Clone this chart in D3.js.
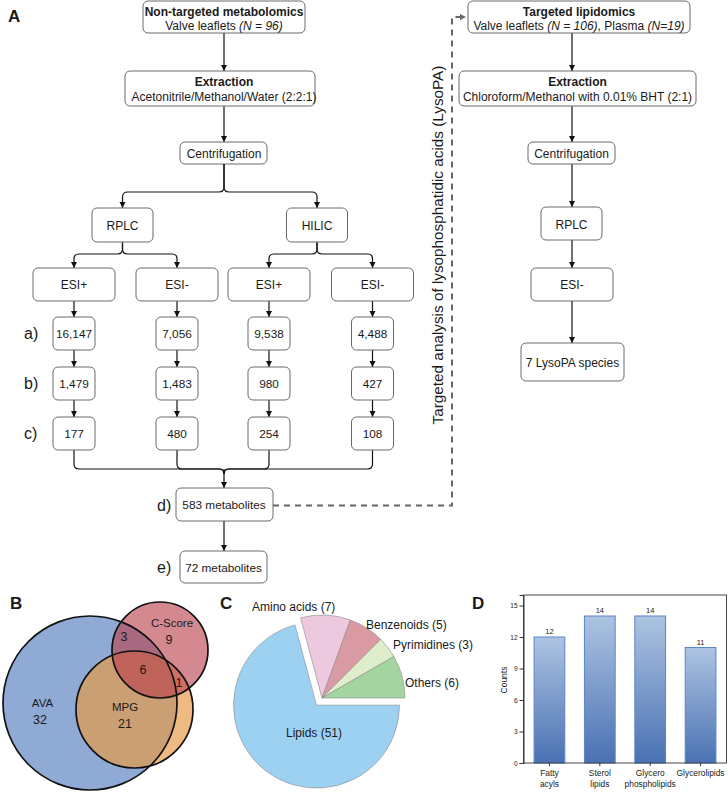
<!DOCTYPE html>
<html><head><meta charset="utf-8">
<script src="https://cdn.jsdelivr.net/npm/d3@7"></script>
<style>
body{margin:0;background:#fff}
svg{display:block}
text{font-family:"Liberation Sans",Arial,Helvetica,sans-serif;fill:#1a1a1a}
</style>
</head><body>
<script>
// ================= DATA =================
const nonTargetedTitle = "Non-targeted metabolomics";
const nonTargetedSample = ["Valve leaflets ", "(N = 96)"];
const extractionTitle = "Extraction";
const extractionA = "Acetonitrile/Methanol/Water (2:2:1)";
const centrifugation = "Centrifugation";
const chromatography = ["RPLC", "HILIC"];
const ionModes = ["ESI+", "ESI-", "ESI+", "ESI-"];
const stepLabels = ["a)", "b)", "c)", "d)", "e)"];
const stepA = [16147, 7056, 9538, 4488];
const stepB = [1479, 1483, 980, 427];
const stepC = [177, 480, 254, 108];
const mergedCount = 583;
const finalCount = 72;
const targetedTitle = "Targeted lipidomics";
const targetedSample = ["Valve leaflets ", "(N = 106)", ", Plasma ", "(N=19)"];
const extractionB = "Chloroform/Methanol with 0.01% BHT (2:1)";
const targetedChrom = "RPLC";
const targetedMode = "ESI-";
const lysoCount = 7;
const sideLabel = "Targeted analysis of lysophosphatidic acids (LysoPA)";

const vennSets = ["AVA", "MPG", "C-Score"];
const vennOnly = [32, 21, 9];
const vennPairAC = 3;
const vennAll = 6;
const vennPairMC = 1;

const pieCategories = ["Amino acids", "Benzenoids", "Pyrimidines", "Others", "Lipids"];
const pieValues = [7, 5, 3, 6, 51];

const barCategories = [["Fatty", "acyls"], ["Sterol", "lipids"], ["Glycero", "phospholipids"], ["Glycerolipids"]];
const barValues = [12, 14, 14, 11];
const barTicks = [0, 3, 6, 9, 12, 15];

// ================= LAYOUT =================
const W = 728, H = 792;
const svg = d3.select("body").append("svg").attr("width", W).attr("height", H);
const defs = svg.append("defs");
function marker(id, color) {
  defs.append("marker").attr("id", id).attr("viewBox", "0 0 10 10")
    .attr("refX", 10).attr("refY", 5).attr("markerWidth", 6.5).attr("markerHeight", 7)
    .attr("markerUnits", "userSpaceOnUse").attr("orient", "auto")
    .append("path").attr("d", "M0,0 L10,5 L0,10 z").attr("fill", color);
}
marker("arr", "#111");
marker("arrg", "#666");

const fmt = d3.format(",");
const flow = svg.append("g");

function box(x0, y0, x1, y1) {
  flow.append("rect").attr("x", x0).attr("y", y0).attr("width", x1 - x0).attr("height", y1 - y0)
    .attr("rx", 5).attr("fill", "#fff").attr("stroke", "#6a6a6a").attr("stroke-width", 1);
}
function txt(x, y, parts, size, anchor) {
  const t = flow.append("text").attr("x", x).attr("y", y).attr("font-size", size)
    .attr("text-anchor", anchor || "middle");
  parts.forEach(p => {
    const s = t.append("tspan").text(p.t);
    if (p.b) s.attr("font-weight", "bold");
    if (p.i) s.attr("font-style", "italic");
  });
  return t;
}
function arrow(x, y0, y1) {
  flow.append("line").attr("x1", x).attr("x2", x).attr("y1", y0).attr("y2", y1)
    .attr("stroke", "#111").attr("stroke-width", 1.2).attr("marker-end", "url(#arr)");
}
function split(px, y0, yb, cx, y1) {
  const r = 5, s = cx < px ? -1 : 1;
  flow.append("path")
    .attr("d", `M${px},${y0} L${px},${yb - r} Q${px},${yb} ${px + s * r},${yb} L${cx - s * r},${yb} Q${cx},${yb} ${cx},${yb + r} L${cx},${y1}`)
    .attr("fill", "none").attr("stroke", "#111").attr("stroke-width", 1.2).attr("marker-end", "url(#arr)");
}
function merge(cx, y0, yb, px) {
  const r = 5, s = px < cx ? -1 : 1;
  flow.append("path")
    .attr("d", `M${cx},${y0} L${cx},${yb - r} Q${cx},${yb} ${cx + s * r},${yb} L${px - s * r},${yb} Q${px},${yb} ${px},${yb + r}`)
    .attr("fill", "none").attr("stroke", "#111").attr("stroke-width", 1.2);
}

const mainX = 224, branchX = [122.5, 317], colX = [74, 177, 269, 372.5];
const FS = 12, NS = 11.8;

svg.append("text").attr("x", 8).attr("y", 22).attr("font-size", 17).attr("font-weight", "bold").text("A");

// Header box
arrow(mainX, 33, 71);
box(143, 1, 305, 33);
txt(mainX, 15.5, [{ t: nonTargetedTitle, b: true }], FS);
txt(mainX, 29.5, [{ t: nonTargetedSample[0] }, { t: nonTargetedSample[1], i: true }], FS);

// Extraction
arrow(mainX, 106, 142);
box(125, 71, 315, 106);
txt(mainX, 85.5, [{ t: extractionTitle, b: true }], FS);
txt(mainX, 101, [{ t: extractionA }], FS);

// Centrifugation
box(180, 142, 267, 164);
txt(mainX, 157.5, [{ t: centrifugation }], FS);
branchX.forEach(bx => split(mainX, 164, 192, bx, 208));

// RPLC / HILIC
chromatography.forEach((c, i) => {
  const bx = branchX[i];
  [0, 1].forEach(k => split(bx, 242, 254, colX[i * 2 + k], 268));
  box(bx - 30.5, 208, bx + 30.5, 242);
  txt(bx, 229.5, [{ t: c }], FS);
});

// ESI boxes and steps
const stepRows = [[317, 350], [367, 400], [417, 450]];
const stepData = [stepA, stepB, stepC];
ionModes.forEach((m, i) => {
  const cx = colX[i];
  arrow(cx, 301, 317);
  arrow(cx, 350, 367);
  arrow(cx, 400, 417);
  merge(cx, 450, 469, mainX);
  box(cx - 41, 268, cx + 41, 301);
  txt(cx, 289, [{ t: m }], FS);
  stepData.forEach((arr, r) => {
    box(cx - 21, stepRows[r][0], cx + 21, stepRows[r][1]);
    txt(cx, (stepRows[r][0] + stepRows[r][1]) / 2 + 4.3, [{ t: fmt(arr[i]) }], NS);
  });
});
stepRows.forEach((row, r) => {
  txt(24, (row[0] + row[1]) / 2 + 5.5, [{ t: stepLabels[r] }], 16, "start");
});
arrow(mainX, 469, 488);

// d and e boxes
arrow(mainX, 521, 551);
box(176, 488, 273, 521);
txt(mainX, 509, [{ t: mergedCount + " metabolites" }], NS);
txt(157, 511, [{ t: stepLabels[3] }], 16, "start");
box(180, 551, 267, 583);
txt(mainX - 0.5, 571.5, [{ t: finalCount + " metabolites" }], NS);
txt(157, 573, [{ t: stepLabels[4] }], 16, "start");

// dashed connector
flow.append("path").attr("d", "M273,505.5 L452,505.5 L452,17 L466,17")
  .attr("fill", "none").attr("stroke", "#666").attr("stroke-width", 2)
  .attr("stroke-dasharray", "6,5").attr("marker-end", "url(#arrg)");
flow.append("text").attr("transform", "translate(443,245) rotate(-90)")
  .attr("text-anchor", "middle").attr("font-size", 15.3).text(sideLabel);

// right column
const rX = 572;
arrow(rX, 33, 71);
arrow(rX, 106, 142);
arrow(rX, 164, 207);
arrow(rX, 240, 268);
arrow(rX, 301, 343);
box(468, 1, 690, 33);
txt(579, 15.5, [{ t: targetedTitle, b: true }], FS);
txt(579, 29.5, [{ t: targetedSample[0] }, { t: targetedSample[1], i: true }, { t: targetedSample[2] }, { t: targetedSample[3], i: true }], FS);
box(459, 71, 696, 106);
txt(577.5, 85.5, [{ t: extractionTitle, b: true }], FS);
txt(577.5, 101, [{ t: extractionB }], FS);
box(528, 142, 615, 164);
txt(571.5, 157.5, [{ t: centrifugation }], FS);
box(541, 207, 602, 240);
txt(571.5, 228.5, [{ t: targetedChrom }], FS);
box(531, 268, 613, 301);
txt(572, 289, [{ t: targetedMode }], FS);
box(521, 343, 624, 381);
txt(572.5, 366.5, [{ t: lysoCount + " LysoPA species" }], FS);

// ================= B: VENN =================
svg.append("text").attr("x", 10).attr("y", 609).attr("font-size", 17).attr("font-weight", "bold").text("B");
const vennLayout = [
  { cx: 90, cy: 703, r: 87, fill: "#8eaad5", op: 1 },
  { cx: 134.5, cy: 709.5, r: 58.5, fill: "#e89a45", op: 0.68 },
  { cx: 160, cy: 650, r: 48, fill: "#b9414c", op: 0.62 }
];
const vg = svg.append("g");
vg.selectAll("circle.f").data(vennLayout).join("circle").attr("class", "f")
  .attr("cx", d => d.cx).attr("cy", d => d.cy).attr("r", d => d.r)
  .attr("fill", d => d.fill).attr("fill-opacity", d => d.op);
vg.selectAll("circle.s").data(vennLayout).join("circle").attr("class", "s")
  .attr("cx", d => d.cx).attr("cy", d => d.cy).attr("r", d => d.r)
  .attr("fill", "none").attr("stroke", "#111").attr("stroke-width", 1.7);
const vennText = [
  { t: vennSets[0], x: 42.5, y: 707, s: 11.5 }, { t: vennOnly[0], x: 40, y: 724, s: 12.5 },
  { t: vennSets[1], x: 125, y: 711, s: 11.5 }, { t: vennOnly[1], x: 125, y: 728, s: 12.5 },
  { t: vennSets[2], x: 172, y: 627, s: 11.5 }, { t: vennOnly[2], x: 169, y: 644, s: 12.5 },
  { t: vennPairAC, x: 124, y: 641, s: 12.5 }, { t: vennAll, x: 143, y: 674, s: 12.5 },
  { t: vennPairMC, x: 179, y: 687, s: 12.5 }
];
vg.selectAll("text").data(vennText).join("text")
  .attr("x", d => d.x).attr("y", d => d.y).attr("font-size", d => d.s)
  .attr("text-anchor", "middle").attr("fill", "#222").text(d => d.t);

// ================= C: PIE =================
svg.append("text").attr("x", 220).attr("y", 609).attr("font-size", 17).attr("font-weight", "bold").text("C");
const pieColors = ["#ecc9df", "#d99aa3", "#deedcb", "#a4d5a0", "#9dd1f2"];
const pieLabelPos = [[252, 611, "start"], [366, 629, "start"], [393, 649, "start"], [405, 687, "start"], [314, 737, "middle"]];
const pcx = 322, pcy = 698, pr = 83;
const pie = d3.pie().sort(null).startAngle(-Math.PI / 12).endAngle(2 * Math.PI - Math.PI / 12);
const arcs = pie(pieValues);
const arc = d3.arc().innerRadius(0).outerRadius(pr);
const pg = svg.append("g").attr("transform", `translate(${pcx},${pcy})`);
pg.selectAll("path").data(arcs).join("path")
  .attr("transform", (d, i) => {
    if (pieCategories[i] !== "Lipids") return null;
    const a = (d.startAngle + d.endAngle) / 2, off = 9;
    return `translate(${off * Math.sin(a)},${-off * Math.cos(a)})`;
  })
  .attr("d", arc).attr("fill", (d, i) => pieColors[i])
  .attr("stroke", "#8a8a8a").attr("stroke-width", 0.6);
svg.append("g").selectAll("text").data(arcs).join("text")
  .attr("x", (d, i) => pieLabelPos[i][0]).attr("y", (d, i) => pieLabelPos[i][1])
  .attr("text-anchor", (d, i) => pieLabelPos[i][2])
  .attr("font-size", 12).attr("fill", "#222")
  .text((d, i) => `${pieCategories[i]} (${d.data})`);

// ================= D: BAR =================
svg.append("text").attr("x", 472).attr("y", 609).attr("font-size", 17).attr("font-weight", "bold").text("D");
const grad = defs.append("linearGradient").attr("id", "bg").attr("x1", 0).attr("y1", 0).attr("x2", 0).attr("y2", 1);
grad.append("stop").attr("offset", "0%").attr("stop-color", "#adc4e2");
grad.append("stop").attr("offset", "100%").attr("stop-color", "#4a71b3");
const bx0 = 523.5, bx1 = 726.5, by0 = 763, by1 = 595;
const xs = d3.scaleBand().domain(d3.range(barValues.length)).range([bx0 + 0.5, bx1 - 0.5]).paddingInner(0.39).paddingOuter(0.2);
const ys = d3.scaleLinear().domain([0, 16]).range([by0, by1]);
const bg = svg.append("g");
bg.selectAll("rect.bar").data(barValues).join("rect").attr("class", "bar")
  .attr("x", (d, i) => xs(i)).attr("width", xs.bandwidth())
  .attr("y", d => ys(d)).attr("height", d => ys(0) - ys(d))
  .attr("fill", "url(#bg)").attr("stroke", "#5a85c9").attr("stroke-width", 1);
bg.selectAll("text.val").data(barValues).join("text").attr("class", "val")
  .attr("x", (d, i) => xs(i) + xs.bandwidth() / 2).attr("y", d => ys(d) - 3)
  .attr("text-anchor", "middle").attr("font-size", 7.5).text(d => d);
bg.append("rect").attr("x", bx0).attr("y", by1).attr("width", bx1 - bx0).attr("height", by0 - by1)
  .attr("fill", "none").attr("stroke", "#333").attr("stroke-width", 0.9);
const yAxis = bg.append("g").attr("transform", `translate(${bx0},0)`)
  .call(d3.axisLeft(ys).tickValues(barTicks).tickSize(4).tickPadding(2));
yAxis.select(".domain").attr("stroke", "#333");
yAxis.selectAll("line").attr("stroke", "#333");
yAxis.selectAll("text").attr("font-size", 6.5).attr("fill", "#222").attr("font-family", null);
const xAxis = bg.append("g").attr("transform", `translate(0,${by0})`)
  .call(d3.axisBottom(xs).tickSize(3).tickFormat(""));
xAxis.select(".domain").remove();
xAxis.selectAll("line").attr("stroke", "#333");
bg.selectAll("text.cat").data(barCategories).join("text").attr("class", "cat")
  .attr("x", (d, i) => xs(i) + xs.bandwidth() / 2).attr("y", 776)
  .attr("text-anchor", "middle").attr("font-size", 8.4)
  .selectAll("tspan").data(d => d).join("tspan")
  .attr("x", function () { return d3.select(this.parentNode).attr("x"); })
  .attr("dy", (d, j) => j ? 10.5 : 0).text(d => d);
bg.append("text").attr("transform", "translate(507,680) rotate(-90)")
  .attr("text-anchor", "middle").attr("font-size", 8.5).text("Counts");
</script>
</body></html>
